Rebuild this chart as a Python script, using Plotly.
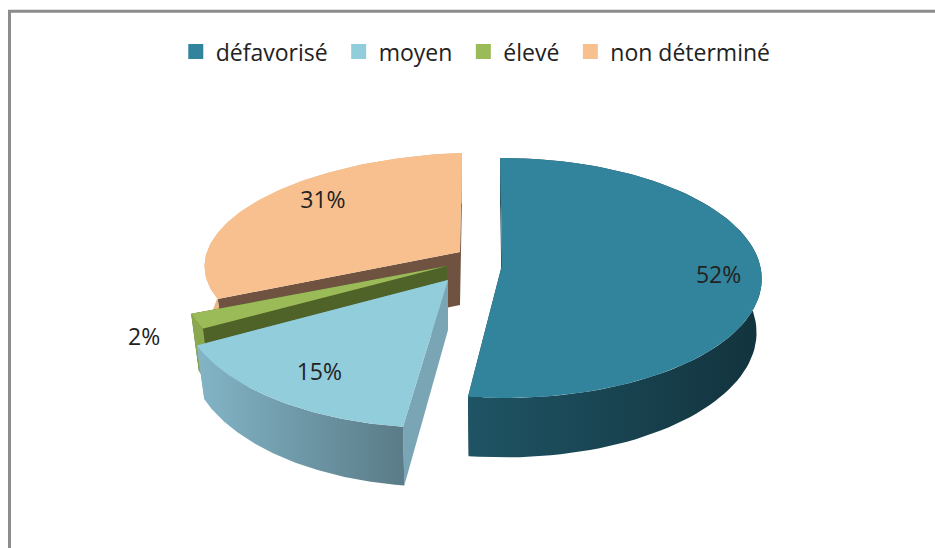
import math
import plotly.graph_objects as go

categories = ["défavorisé", "moyen", "élevé", "non déterminé"]
values = [52, 15, 2, 31]
label_text = ["52%", "15%", "2%", "31%"]

top_colors = ["#31849b", "#92cddc", "#9bbb59", "#f7c08e"]
cut_colors = ["#153a45", "#7aa5b5", "#4f6228", "#6f5240"]
wall_grad = [("#1f5464", "#12333d"), ("#83b5c7", "#5a7b87"), ("#8aa84e", "#8aa84e"), ("#eeb584", "#eeb584")]

# per-slice view: apex px, radius x, radius y, perspective, skews, depth, wall taper, label placement
views = [
    dict(ax=502, ay=265, R=258, K=118.6, p=0.108, a=-2.0, b=0.0, D=53, sh=0.02, lab=0.84, ldx=-1, ldy=6),
    dict(ax=448, ay=280, R=263, K=126.0, p=0.150, a=5.4, b=0.0, D=50, sh=0.03, lab=0.85, ldx=16, ldy=-5),
    dict(ax=447, ay=266, R=265, K=125.0, p=0.100, a=0.0, b=0.0, D=55, sh=0.03, lab=1.24, ldx=11, ldy=4),
    dict(ax=460, ay=252, R=255, K=104.0, p=0.050, a=2.0, b=8.4, D=53, sh=0.03, lab=0.72, ldx=11, ldy=-13),
]


def project(v, r, deg, z=0.0):
    X = r * math.sin(math.radians(deg))
    Y = r * math.cos(math.radians(deg))
    s = 1 / (1 + v["p"] * Y)
    shrink = 1 - v["sh"] * (z / v["D"])
    return (
        v["ax"] + (v["R"] * X + v["a"] * Y) * s * shrink,
        v["ay"] - (v["K"] * Y + v["b"] * X) * s + z * s,
    )


def arc(v, a0, a1, z=0.0, n=90):
    return [project(v, 1, a0 + (a1 - a0) * i / n, z) for i in range(n + 1)]


def poly(fig, pts, color=None, grad=None):
    xs = [p[0] for p in pts] + [pts[0][0]]
    ys = [p[1] for p in pts] + [pts[0][1]]
    kw = dict(fillcolor=color) if grad is None else dict(
        fillgradient=dict(type="horizontal", colorscale=[[0, grad[0]], [1, grad[1]]])
    )
    fig.add_trace(go.Scatter(x=xs, y=ys, mode="lines", fill="toself", line=dict(width=0),
                             hoverinfo="skip", showlegend=False, **kw))


total = sum(values)
spans = []
cum = 0.0
for val in values:
    spans.append((cum, cum + 360.0 * val / total))
    cum += 360.0 * val / total

fig = go.Figure()
for i in [3, 2, 1, 0]:
    v = views[i]
    a0, a1 = spans[i]
    d = v["D"]
    apex, apex_low = project(v, 0, 0), project(v, 0, 0, d)
    # cut faces, back one first
    for ang in (a1, a0):
        poly(fig, [apex, project(v, 1, ang), project(v, 1, ang, d), apex_low], color=cut_colors[i])
    # outer wall
    top_arc = arc(v, a0, a1)
    low_arc = arc(v, a0, a1, d)
    poly(fig, top_arc + low_arc[::-1], grad=wall_grad[i])
    # top face
    poly(fig, [apex] + top_arc, color=top_colors[i])

# data labels
lx, ly = [], []
for i, v in enumerate(views):
    a0, a1 = spans[i]
    x, y = project(v, v["lab"], (a0 + a1) / 2)
    lx.append(x + v["ldx"])
    ly.append(y + v["ldy"])
fig.add_trace(go.Scatter(x=lx, y=ly, mode="text", text=label_text, hoverinfo="skip", showlegend=False,
                         textfont=dict(family="Open Sans", size=23, color="#222222")))

# legend
for name, col in zip(categories, top_colors):
    fig.add_trace(go.Scatter(x=[None], y=[None], mode="markers", name=name + "\u00a0",
                             marker=dict(symbol="square", size=15, color=col)))

frame = "#8c8c8c"
fig.update_layout(
    width=935, height=548,
    margin=dict(l=0, r=0, t=0, b=0),
    paper_bgcolor="white", plot_bgcolor="white",
    xaxis=dict(range=[0, 935], visible=False, fixedrange=True),
    yaxis=dict(range=[548, 0], visible=False, fixedrange=True),
    legend=dict(orientation="h", x=0.188, y=0.945, xanchor="left", yanchor="top",
                font=dict(family="Open Sans", size=23, color="#222222"),
                itemwidth=30, bgcolor="rgba(0,0,0,0)"),
    shapes=[
        dict(type="line", x0=9.5, x1=9.5, y0=10, y1=548, line=dict(color=frame, width=3)),
        dict(type="line", x0=8, x1=935, y0=11.3, y1=11.3, line=dict(color=frame, width=3)),
    ],
)
fig.write_html("out.html", config={"displayModeBar": False},
               post_script="document.body.style.margin='0';")
